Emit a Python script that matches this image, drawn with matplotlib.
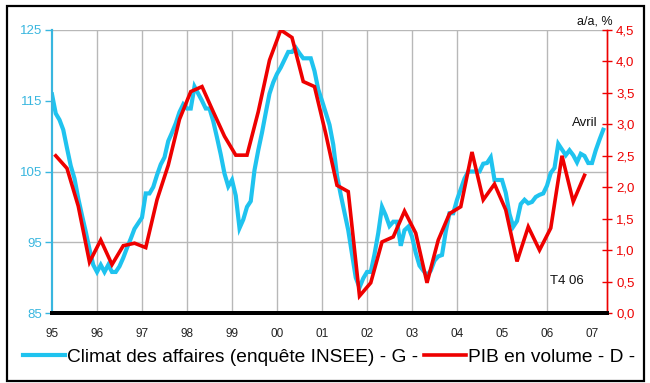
import matplotlib.pyplot as plt
import numpy as np
from matplotlib.patches import Rectangle

plt.rcParams['font.family'] = ['Liberation Sans', 'DejaVu Sans']

# Climat des affaires (INSEE), mensuel, janv. 1995 -> avril 2007
climat = [
    115.9, 113.2, 112.3, 110.9, 108.3, 105.8, 104.0, 101.2, 98.8, 96.5, 94.0, 91.8,   # 1995
    90.8, 91.8, 90.8, 91.8, 90.8, 90.8, 91.6, 92.8, 94.2, 95.5, 96.9, 97.7,           # 1996
    98.5, 101.9, 101.9, 102.8, 104.5, 106.0, 107.0, 109.3, 110.5, 111.8, 113.4, 114.5,  # 1997
    113.9, 113.9, 117.0, 116.0, 115.0, 113.9, 113.9, 112.1, 109.8, 107.4, 104.7, 102.9,  # 1998
    103.8, 101.6, 97.0, 98.2, 100.0, 100.8, 105.2, 108.0, 110.5, 113.3, 116.0, 117.6,   # 1999
    118.8, 119.7, 120.8, 121.9, 121.9, 122.5, 121.7, 121.0, 121.0, 121.0, 119.2, 116.6,  # 2000
    115.0, 113.3, 111.6, 108.8, 104.4, 101.7, 99.2, 96.7, 93.3, 90.0, 88.6, 89.9,       # 2001
    90.8, 90.8, 93.3, 96.3, 100.0, 98.8, 97.3, 97.9, 97.9, 94.5, 96.7, 97.2,           # 2002
    95.8, 93.5, 91.7, 91.0, 90.3, 91.0, 92.4, 93.0, 93.2, 96.5, 99.1, 99.1,            # 2003
    101.0, 102.5, 104.0, 105.0, 105.0, 105.0, 105.0, 106.1, 106.2, 107.0, 103.8, 103.8,  # 2004
    103.8, 102.0, 99.0, 97.2, 98.0, 100.4, 101.0, 100.5, 100.7, 101.4, 101.7, 101.9,    # 2005
    103.0, 104.8, 105.5, 108.9, 108.1, 107.3, 108.0, 107.3, 106.3, 107.5, 107.2, 106.2,  # 2006
    106.2, 108.0, 109.5, 110.9,                                                          # 2007
]

# PIB en volume, glissement annuel (%), trimestriel T1 1995 -> T4 2006
pib = [
    2.50, 2.30, 1.70, 0.81,
    1.16, 0.77, 1.07, 1.11,
    1.04, 1.80, 2.35, 3.08,
    3.52, 3.60, 3.20, 2.81,
    2.51, 2.51, 3.20, 4.02,
    4.50, 4.38, 3.68, 3.60,
    2.85, 2.03, 1.93, 0.27,
    0.48, 1.13, 1.21, 1.62,
    1.27, 0.48, 1.16, 1.58,
    1.69, 2.56, 1.80, 2.05,
    1.64, 0.82, 1.37, 1.00,
    1.35, 2.50, 1.77, 2.19,
]

years = list(range(1995, 2008))
year_labels = ['95', '96', '97', '98', '99', '00', '01', '02', '03', '04', '05', '06', '07']
grid_years = [1996, 1997, 1998, 1999, 2000, 2001, 2002, 2003, 2004, 2006]
left_ticks = [85, 95, 105, 115, 125]
right_ticks = [0, 0.5, 1, 1.5, 2, 2.5, 3, 3.5, 4, 4.5]

BLUE = '#1fc3ef'
BLUE_TXT = '#38b6df'
RED = '#ee0000'

t_climat = 1995 + np.arange(len(climat)) / 12.0
t_pib = 1995 + (np.arange(len(pib)) * 3 + 1) / 12.0

fig = plt.figure(figsize=(6.5, 3.83), dpi=100)
ax = fig.add_axes([52 / 650, 1 - 313 / 383, (607 - 52) / 650, (313 - 30) / 383])
ax2 = ax.twinx()

# grille
for g in grid_years:
    ax.axvline(g, color='#b8b8b8', lw=1.0, zorder=0)
for g in [95, 105, 125]:
    ax.axhline(g, color='#b8b8b8', lw=1.0, zorder=0)

l1, = ax.plot(t_climat, climat, color=BLUE, lw=3.0, solid_joinstyle='miter', zorder=3)
l2, = ax2.plot(t_pib, pib, color=RED, lw=2.6, solid_joinstyle='miter', zorder=4)

ax.set_xlim(1995, 1995 + (607 - 52) / 45)
ax.set_ylim(85, 125)
ax2.set_ylim(0, 4.5)

ax.set_xticks(years)
ax.set_xticklabels(year_labels)
ax.tick_params(axis='x', length=0, pad=11, labelsize=8.5, colors='#222222')
ax.set_yticks(left_ticks)
ax.tick_params(axis='y', direction='out', length=5, width=1, color=BLUE_TXT,
               labelcolor=BLUE_TXT, labelsize=9.5, pad=2)
ax2.set_yticks(right_ticks)
ax2.set_yticklabels([f'{v:.1f}'.replace('.', ',') for v in right_ticks])
ax2.tick_params(axis='y', direction='inout', length=7, width=1, color=RED,
                labelcolor=RED, labelsize=9.5, pad=3)

for a in (ax, ax2):
    a.spines['top'].set_visible(False)
    a.spines['left'].set_color(BLUE_TXT)
    a.spines['left'].set_linewidth(1.5)
    a.spines['right'].set_color(RED)
    a.spines['right'].set_linewidth(1.0)
    a.spines['bottom'].set_color('black')
    a.spines['bottom'].set_linewidth(2.8)
ax2.patch.set_visible(False)

ax2.text(1.01, 1.008, 'a/a, %', transform=ax.transAxes, ha='right', va='bottom',
         fontsize=9, color='#111111')
ax.text(2006.85, 111.9, 'Avril', ha='center', va='center', fontsize=9.5, color='#111111')
ax.text(2006.45, 89.5, 'T4 06', ha='center', va='center', fontsize=9.5, color='#111111')

fig.legend(handles=[l1, l2],
           labels=['Climat des affaires (enquête INSEE) - G -', 'PIB en volume - D -'],
           loc='center', bbox_to_anchor=(329 / 650, 1 - 357 / 383), ncol=2,
           frameon=False, fontsize=13.8, handlelength=2.2, handletextpad=0.1,
           columnspacing=0.3, borderaxespad=0)

fig.patches.append(Rectangle((7 / 650, 2 / 383), 637 / 650, 375 / 383,
                             transform=fig.transFigure, fill=False,
                             edgecolor='black', lw=1.6))

fig.savefig('out.png', dpi=100)
